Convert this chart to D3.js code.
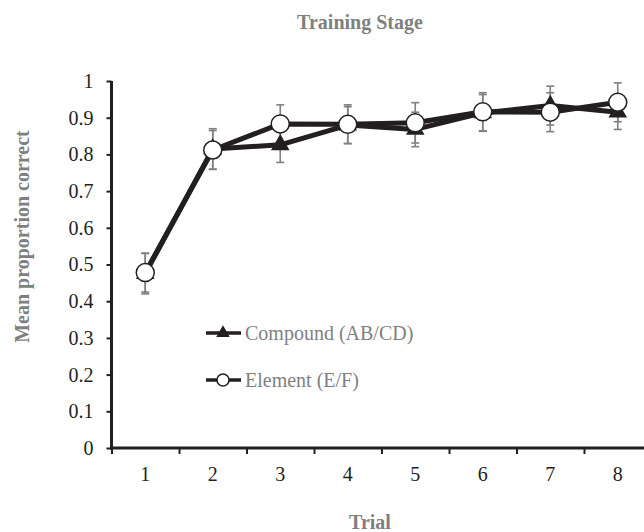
<!DOCTYPE html>
<html>
<head>
<meta charset="utf-8">
<script src="https://cdn.jsdelivr.net/npm/d3@7"></script>
<style>
  body { margin: 0; background: #fff; }
  svg text { font-family: "Liberation Serif", "Times New Roman", serif; }
  .axis path, .axis line { stroke: #231f20; }
  .axis text { fill: #231f20; font-size: 20px; }
  .gray { fill: #7f7f7f; }
</style>
</head>
<body>
<svg id="chart" width="644" height="532"></svg>
<script>
// Trial numbers and the two series (mean proportion correct, standard errors)
const trials = [1, 2, 3, 4, 5, 6, 7, 8];
const compoundMean = [0.475, 0.815, 0.826, 0.880, 0.868, 0.913, 0.933, 0.915];
const compoundErr = [0.055, 0.055, 0.048, 0.050, 0.047, 0.050, 0.053, 0.047];
const elementMean = [0.478, 0.812, 0.883, 0.882, 0.886, 0.916, 0.915, 0.942];
const elementErr = [0.053, 0.053, 0.052, 0.053, 0.055, 0.052, 0.053, 0.053];
const yTicks = [0, 0.1, 0.2, 0.3, 0.4, 0.5, 0.6, 0.7, 0.8, 0.9, 1];
const seriesNames = ["Compound (AB/CD)", "Element (E/F)"];

const svg = d3.select("#chart");

// x runs half a trial past each end, so the ticks fall between trials
let x = d3.scaleLinear().domain([0.5, 8.5]).range([111.5, 651.5]);
let y = d3.scaleLinear().domain([0, 1]).range([448, 81]);

// Y axis
let yAxis = svg.append("g")
  .attr("class", "axis")
  .attr("transform", "translate(111.5,0)")
  .call(d3.axisLeft(y)
    .tickValues(yTicks)
    .tickSize(5)
    .tickPadding(13)
    .tickFormat(d => d === 0 || d === 1 ? d3.format("d")(d) : d3.format(".1f")(d)));
yAxis.select(".domain").attr("stroke-width", 3).attr("d", "M0," + y(1) + "V" + (y(0) + 1.5));
yAxis.selectAll(".tick line").attr("stroke-width", 2);

// X axis: ticks between trials, labels under each trial
let xAxis = svg.append("g")
  .attr("class", "axis")
  .attr("transform", "translate(0,448)");
xAxis.call(d3.axisBottom(x)
  .tickValues(trials.map(t => t - 0.5))
  .tickSize(6)
  .tickFormat(""));
xAxis.select(".domain").attr("stroke-width", 3).attr("d", "M110,0H644");
xAxis.selectAll(".tick line").attr("stroke-width", 2);

xAxis.selectAll("text.lab")
  .data(trials)
  .enter()
  .append("text")
  .attr("class", "lab")
  .attr("x", d => x(d))
  .attr("y", 33)
  .attr("text-anchor", "middle")
  .attr("fill", "#231f20")
  .style("font-size", "20px")
  .text(d => d);

// Error bars for both series
const errData = [];
trials.forEach((t, i) => {
  errData.push({ t: t, m: compoundMean[i], e: compoundErr[i] });
  errData.push({ t: t, m: elementMean[i], e: elementErr[i] });
});
let eb = svg.append("g")
  .selectAll("g")
  .data(errData)
  .enter()
  .append("g")
  .attr("stroke", "#808080")
  .attr("stroke-width", 1.6);
eb.append("line")
  .attr("x1", d => x(d.t)).attr("x2", d => x(d.t))
  .attr("y1", d => y(d.m + d.e)).attr("y2", d => y(d.m - d.e));
eb.append("line")
  .attr("x1", d => x(d.t) - 4).attr("x2", d => x(d.t) + 4)
  .attr("y1", d => y(d.m + d.e)).attr("y2", d => y(d.m + d.e));
eb.append("line")
  .attr("x1", d => x(d.t) - 4).attr("x2", d => x(d.t) + 4)
  .attr("y1", d => y(d.m - d.e)).attr("y2", d => y(d.m - d.e));

// Lines
let line = d3.line()
  .x((d, i) => x(trials[i]))
  .y(d => y(d));

svg.append("path")
  .datum(compoundMean)
  .attr("d", line)
  .attr("fill", "none")
  .attr("stroke", "#231f20")
  .attr("stroke-width", 5)
  .attr("stroke-linejoin", "round");

svg.append("path")
  .datum(elementMean)
  .attr("d", line)
  .attr("fill", "none")
  .attr("stroke", "#231f20")
  .attr("stroke-width", 5)
  .attr("stroke-linejoin", "round");

// Markers
let tri = d3.symbol().type(d3.symbolTriangle).size(150);

svg.append("g")
  .selectAll("path")
  .data(compoundMean)
  .enter()
  .append("path")
  .attr("d", tri)
  .attr("transform", (d, i) => "translate(" + x(trials[i]) + "," + y(d) + ")")
  .attr("fill", "#231f20");

svg.append("g")
  .selectAll("circle")
  .data(elementMean)
  .enter()
  .append("circle")
  .attr("cx", (d, i) => x(trials[i]))
  .attr("cy", d => y(d))
  .attr("r", 9)
  .attr("fill", "#fff")
  .attr("stroke", "#231f20")
  .attr("stroke-width", 1.5);

// Legend
let legend = svg.append("g");
let ly = [333, 380];
ly.forEach((yy, i) => {
  legend.append("line")
    .attr("x1", 206).attr("x2", 241)
    .attr("y1", yy).attr("y2", yy)
    .attr("stroke", "#231f20")
    .attr("stroke-width", 3.5);
  legend.append("text")
    .attr("class", "gray")
    .attr("x", 245)
    .attr("y", yy + 7)
    .style("font-size", "20px")
    .text(seriesNames[i]);
});
legend.append("path")
  .attr("d", d3.symbol().type(d3.symbolTriangle).size(80))
  .attr("transform", "translate(223," + ly[0] + ")")
  .attr("fill", "#231f20");
legend.append("circle")
  .attr("cx", 223).attr("cy", ly[1]).attr("r", 6)
  .attr("fill", "#fff")
  .attr("stroke", "#231f20")
  .attr("stroke-width", 1.5);

// Titles
svg.append("text")
  .attr("class", "gray")
  .attr("x", 360)
  .attr("y", 28.5)
  .attr("text-anchor", "middle")
  .style("font-size", "20px")
  .style("font-weight", "bold")
  .text("Training Stage");

svg.append("text")
  .attr("class", "gray")
  .attr("x", 370)
  .attr("y", 529)
  .attr("text-anchor", "middle")
  .style("font-size", "20px")
  .style("font-weight", "bold")
  .text("Trial");

svg.append("text")
  .attr("class", "gray")
  .attr("transform", "translate(28.5,236.5) rotate(-90)")
  .attr("text-anchor", "middle")
  .style("font-size", "20px")
  .style("font-weight", "bold")
  .text("Mean proportion correct");
</script>
</body>
</html>
